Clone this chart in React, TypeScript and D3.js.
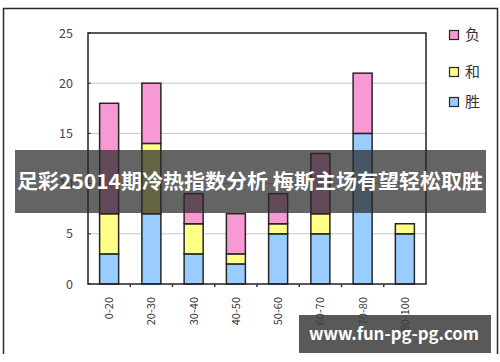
import React from "react";
import * as d3 from "d3";

const categories = ["0-20", "20-30", "30-40", "40-50", "50-60", "60-70", "70-80", "80-100"];
const winValues = [3, 7, 3, 2, 5, 5, 15, 5];   // 胜
const drawValues = [4, 7, 3, 1, 1, 2, 0, 1];   // 和
const loseValues = [11, 6, 3, 4, 3, 6, 6, 0];  // 负
const seriesNames = ["胜", "和", "负"];
const seriesColors = ["#99ccff", "#ffff88", "#f899d6"];
const yTicks = [0, 5, 10, 15, 20, 25];
const titleText = "足彩25014期冷热指数分析 梅斯主场有望轻松取胜";
const watermarkText = "www.fun-pg-pg.com";

const W = 500;
const H = 362;
const plot = { left: 88, right: 426, top: 33, bottom: 284 };

export default function App() {
  const x = d3
    .scaleBand<string>()
    .domain(categories)
    .range([plot.left, plot.right])
    .paddingInner(0.55)
    .paddingOuter(0.275);
  const y = d3.scaleLinear().domain([0, 25]).range([plot.bottom, plot.top]);

  const rows = categories.map((c, i) => ({
    cat: c,
    胜: winValues[i],
    和: drawValues[i],
    负: loseValues[i],
  }));
  const stacked = d3.stack<any>().keys(seriesNames)(rows);
  const step = x.step();
  const font = "'Noto Sans CJK SC', 'Noto Sans', sans-serif";

  return (
    <div style={{ position: "absolute", left: 0, top: 0 }}>
      <svg width={W} height={H} style={{ display: "block" }}>
        <rect x={0} y={0} width={W} height={H} fill="#ffffff" />
        {/* outer frame */}
        <path d={`M3.5,354 V8.5 H497.5 V354`} fill="none" stroke="#2a2a2a" strokeWidth={1.5} />

        {/* gridlines */}
        {yTicks.slice(1, -1).map((t) => (
          <line key={t} x1={plot.left} x2={plot.right} y1={y(t)} y2={y(t)} stroke="#c8c8c8" strokeWidth={1} />
        ))}

        {/* y ticks and labels */}
        {yTicks.map((t) => (
          <g key={t}>
            <line x1={plot.left} x2={plot.left + 3} y1={y(t)} y2={y(t)} stroke="#333" strokeWidth={1} />
            <text x={73} y={y(t)} dy="0.36em" textAnchor="end" fontSize={12.5} fill="#444" fontFamily={font}>
              {t}
            </text>
          </g>
        ))}

        {/* bars */}
        {stacked.map((s, si) => (
          <g key={seriesNames[si]}>
            {s.map((d: any, i: number) =>
              d[1] - d[0] > 0 ? (
                <rect
                  key={i}
                  x={x(categories[i])!}
                  y={y(d[1])}
                  width={x.bandwidth()}
                  height={y(d[0]) - y(d[1])}
                  fill={seriesColors[si]}
                  stroke="#262626"
                  strokeWidth={1.5}
                />
              ) : null
            )}
          </g>
        ))}

        {/* plot box */}
        <path
          d={`M${plot.left},${plot.top} H${plot.right} V${plot.bottom} H${plot.left} Z`}
          fill="none"
          stroke="#222"
          strokeWidth={1.5}
        />

        {/* x category boundary ticks */}
        {categories.slice(1).map((c) => (
          <line
            key={c}
            x1={x(c)! - (step - x.bandwidth()) / 2}
            x2={x(c)! - (step - x.bandwidth()) / 2}
            y1={plot.bottom}
            y2={plot.bottom + 3}
            stroke="#333"
            strokeWidth={1.5}
          />
        ))}

        {/* x labels */}
        {categories.map((c) => {
          const cx = x(c)! + x.bandwidth() / 2;
          const ty = 297;
          return (
            <text
              key={c}
              transform={`translate(${cx},${ty}) rotate(-90)`}
              textAnchor="end"
              dy="0.36em"
              fontSize={11}
              fill="#333"
              fontFamily={font}
            >
              {c}
            </text>
          );
        })}

        {/* legend */}
        {[2, 1, 0].map((si, k) => {
          const ly = [35, 72, 102][k];
          return (
            <g key={si}>
              <rect x={449.5} y={ly - 4.5} width={9} height={9} fill={seriesColors[si]} stroke="#262626" strokeWidth={1.2} />
              <text x={465} y={ly} dy="0.36em" fontSize={15} fill="#333" fontFamily={font}>
                {seriesNames[si]}
              </text>
            </g>
          );
        })}

        {/* title banner */}
        <rect x={15} y={150} width={471} height={63} fill="rgba(40,40,40,0.72)" />
        <text
          x={250}
          y={182}
          dy="0.36em"
          textAnchor="middle"
          fontSize={20}
          fontWeight="bold"
          fill="#ffffff"
          fontFamily={font}
          textLength={466}
          lengthAdjust="spacingAndGlyphs"
        >
          {titleText}
        </text>

        {/* watermark */}
        <rect x={299} y={315} width={192} height={38} fill="rgba(60,60,60,0.85)" />
        <text
          x={394}
          y={334}
          dy="0.36em"
          textAnchor="middle"
          fontSize={17}
          fontWeight="bold"
          fill="#ffffff"
          fontFamily={font}
          textLength={170}
          lengthAdjust="spacingAndGlyphs"
        >
          {watermarkText}
        </text>
      </svg>
    </div>
  );
}
